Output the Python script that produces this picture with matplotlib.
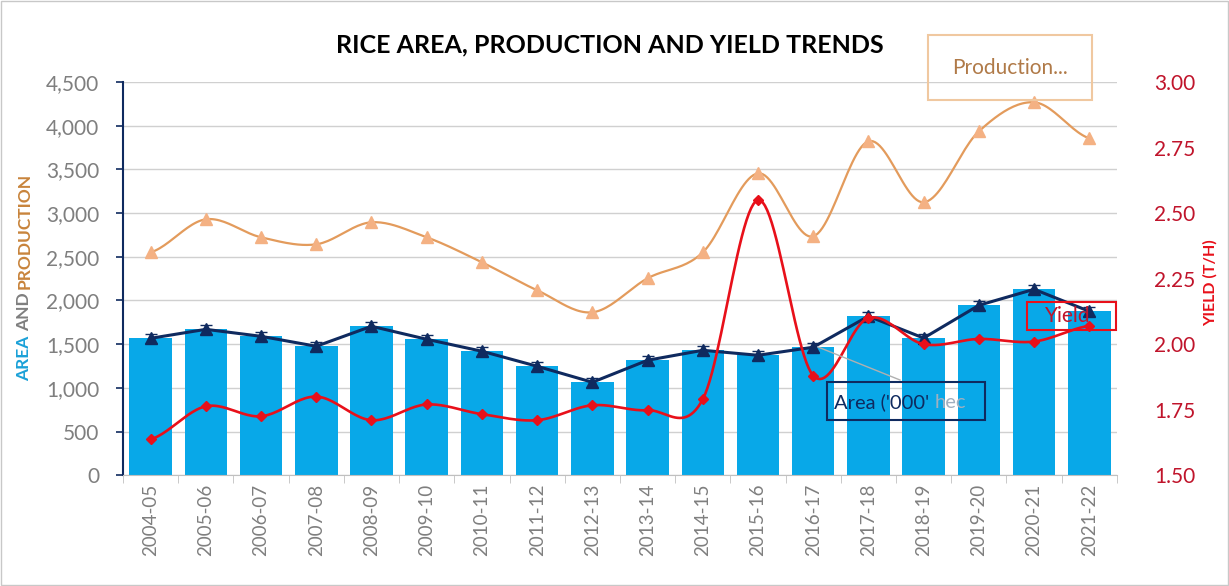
import numpy as np
import matplotlib
matplotlib.use("Agg")
import matplotlib.pyplot as plt
from matplotlib.patches import Rectangle

plt.rcParams['font.family'] = ['Lato', 'DejaVu Sans']

years = ["2004-05", "2005-06", "2006-07", "2007-08", "2008-09", "2009-10",
         "2010-11", "2011-12", "2012-13", "2013-14", "2014-15", "2015-16",
         "2016-17", "2017-18", "2018-19", "2019-20", "2020-21", "2021-22"]
area = [1567, 1670, 1590, 1476, 1705, 1556, 1419, 1247, 1064, 1316, 1430, 1373,
        1465, 1820, 1570, 1945, 2128, 1876]
production = [2551, 2929, 2723, 2643, 2895, 2723, 2437, 2117, 1865, 2254, 2551, 3455,
              2734, 3822, 3124, 3936, 4268, 3856]
yield_th = [1.637, 1.763, 1.725, 1.80, 1.71, 1.77, 1.733, 1.71, 1.767, 1.748, 1.79, 2.55,
            1.88, 2.10, 2.00, 2.02, 2.01, 2.07]
area_err = 50

bar_col = '#08a8e8'
navy = '#0f2a5f'
prod_line = '#e39b5c'
prod_mark = '#f4b183'
red = '#e8101a'
tick_red = '#c0142b'
gray = '#7f7f7f'
W, H = 1229, 586


def smooth(y, n=24):
    # Catmull-Rom style curve like Excel smoothed lines
    y = np.asarray(y, float)
    p = np.concatenate([[y[0]], y, [y[-1]]])
    xs, ys = [], []
    for i in range(len(y) - 1):
        p0, p1, p2, p3 = p[i], p[i + 1], p[i + 2], p[i + 3]
        t = np.linspace(0, 1, n, endpoint=False)
        c1 = p1 + (p2 - p0) / 6
        c2 = p2 - (p3 - p1) / 6
        yy = (1 - t) ** 3 * p1 + 3 * (1 - t) ** 2 * t * c1 + 3 * (1 - t) * t ** 2 * c2 + t ** 3 * p2
        xs.append(i + t)
        ys.append(yy)
    xs.append([len(y) - 1])
    ys.append([y[-1]])
    return np.concatenate(xs), np.concatenate(ys)


def px_box(x0, y0, x1, y1, ec):
    # rectangle given in image pixels (top-left origin)
    fig.add_artist(Rectangle((x0 / W, 1 - y1 / H), (x1 - x0) / W, (y1 - y0) / H,
                             transform=fig.transFigure, fill=False, ec=ec, lw=1.5))


fig = plt.figure(figsize=(12.29, 5.86), dpi=100)
ax = fig.add_axes([0.1001, 0.189, 0.8087, 0.671])
x = np.arange(len(years))

ax.bar(x, area, width=0.77, color=bar_col, zorder=2)
ax.errorbar(x, area, yerr=area_err, color=navy, lw=2.2, marker='^', ms=8,
            capsize=4, elinewidth=1, zorder=4)
sx, sy = smooth(production)
ax.plot(sx, sy, color=prod_line, lw=1.6, zorder=3)
ax.plot(x, production, ls='none', marker='^', ms=9, color=prod_mark, zorder=3)

ax.set_xlim(-0.5, len(years) - 0.5)
ax.set_ylim(0, 4500)
ax.set_yticks(np.arange(0, 4501, 500))
ax.set_yticklabels([f"{v:,}" for v in range(0, 4501, 500)], fontsize=15, color=gray)
ax.yaxis.grid(True, color='#d0d0d0', lw=1)
ax.set_axisbelow(True)
ax.set_xticks(x)
ax.set_xticklabels(years, rotation=90, fontsize=13.5, color=gray)
ax.set_xticks(np.arange(-0.5, len(years)), minor=True)
ax.tick_params(axis='x', which='major', length=0, pad=6)
ax.tick_params(axis='x', which='minor', length=6, color='#c0c0c0')
ax.tick_params(axis='y', length=5, color=navy, width=1.2, pad=12)
for s in ['top', 'right']:
    ax.spines[s].set_visible(False)
ax.spines['left'].set_color(navy)
ax.spines['left'].set_linewidth(1.5)
ax.spines['bottom'].set_color('#c0c0c0')

ax2 = ax.twinx()
ax2.set_ylim(1.5, 3.0)
ax2.set_yticks(np.arange(1.5, 3.01, 0.25))
ax2.set_yticklabels([f"{v:.2f}" for v in np.arange(1.5, 3.01, 0.25)], fontsize=15, color=tick_red)
ax2.tick_params(axis='y', length=0, pad=27)
for s in ax2.spines.values():
    s.set_visible(False)
sx, sy = smooth(yield_th)
ax2.plot(sx, sy, color=red, lw=1.9, zorder=5)
ax2.plot(x, yield_th, ls='none', marker='D', ms=5, color=red, zorder=5)

# labels
fig.text(0.496, 0.923, "RICE AREA, PRODUCTION AND YIELD TRENDS", ha='center', va='center',
         fontsize=18, fontweight='bold', color='black')

# multi-coloured y label, stacked bottom to top
renderer = fig.canvas.get_renderer()
ypos = 1 - 381 / H
for piece, col in [("AREA ", '#1ba1d8'), ("AND ", gray), ("PRODUCTION", '#c8843c')]:
    t = fig.text(0.020, ypos, piece, rotation=90, ha='center', va='bottom', fontsize=12.5,
                 fontweight='bold', color=col)
    ext = t.get_window_extent(renderer)
    ypos += ext.height / fig.bbox.height
fig.text(0.985, 0.517, "YIELD (T/H)", rotation=90, ha='center', va='center', fontsize=11.5,
         fontweight='bold', color=red)

# label boxes
px_box(928, 35, 1092, 100, '#f0c8a0')
fig.text(1010 / W, 1 - 68 / H, "Production...", ha='center', va='center', fontsize=15,
         color='#b07a48')
fig.add_artist(plt.Line2D([818 / W, 900 / W], [1 - 347 / H, 1 - 380 / H],
                          color='#b0b0b0', lw=1))
px_box(827, 382, 985, 420, navy)
t = fig.text(834 / W, 1 - 402 / H, "Area ('000' ", ha='left', va='center', fontsize=14.5,
             color=navy)
ext = t.get_window_extent(renderer)
fig.text(ext.x1 / fig.bbox.width, 1 - 402 / H, "hec", ha='left', va='center', fontsize=14.5,
         color='#a0b0c0')
px_box(1027, 302, 1116, 330, red)
fig.text(1068 / W, 1 - 316 / H, "Yield", ha='center', va='center', fontsize=15, color=tick_red)

fig.add_artist(Rectangle((0.001, 0.001), 0.998, 0.998, transform=fig.transFigure,
                         fill=False, ec='#c8c8c8', lw=1))

fig.savefig("out.png", dpi=100)
